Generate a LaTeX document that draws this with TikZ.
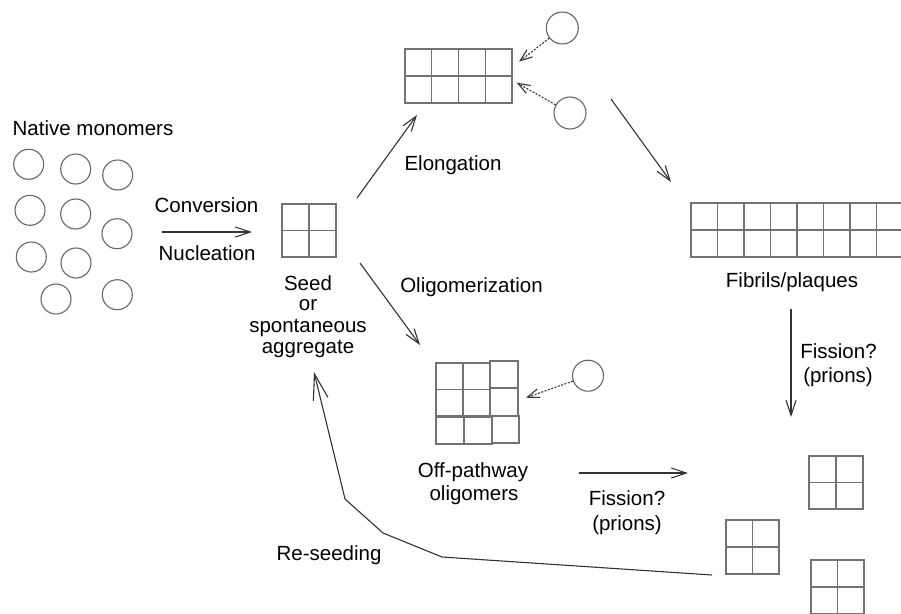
\documentclass[tikz,border=0pt]{standalone}
\usepackage{fontspec}
\setmainfont{Liberation Sans}
\usetikzlibrary{arrows.meta}
\tikzset{
  lbl/.style={font=\fontsize{20.5}{22}\selectfont, inner sep=0pt, anchor=base, text=black},
  conn/.style={draw=black!80, line width=1.1pt, -{Straight Barb[length=15pt,width=10pt,line width=1.1pt]}},
  reseed/.style={draw=black!80, line width=1.1pt, line join=round, -{Straight Barb[length=26pt,width=15pt,line width=1.1pt]}},
  dconn/.style={draw=black!80, line width=1.1pt, dash pattern=on 2pt off 1.5pt, -{Straight Barb[length=12pt,width=9pt,line width=1.1pt]}},
  cellln/.style={draw=black!55, line width=1.3pt},
  mono/.style={circle, draw=black!60, line width=1.1pt, minimum size=30pt, inner sep=0pt},
}
\newcommand\myagg[7]{%
  \node[cellln, rectangle, inner sep=0pt, anchor=north west,
        minimum width=#4*#6 pt, minimum height=#5*#7 pt] (#1) at (#2,#3) {};
  \foreach \i in {1,...,#4}{\foreach \j in {1,...,#5}{
    \draw[cellln] ({#2+(\i-1)*#6},{#3+(\j-1)*#7}) rectangle ++(#6,#7);}}%
}
\begin{document}
\begin{tikzpicture}[x=1pt,y=-1pt]
\useasboundingbox (0,0) rectangle (901,613);

% native monomers
\node[lbl] (tNative) at (93,135) {Native monomers};
\node[mono] (m1) at (28.7,164.3) {};
\node[mono] (m2) at (75.7,169) {};
\node[mono] (m3) at (117.7,175) {};
\node[mono] (m4) at (30,210.3) {};
\node[mono] (m5) at (75.7,214) {};
\node[mono] (m6) at (117,233.7) {};
\node[mono] (m7) at (31.3,257) {};
\node[mono] (m8) at (76,263) {};
\node[mono] (m9) at (56,299) {};
\node[mono] (m10) at (117.3,294.7) {};

% conversion arrow
\node[lbl] (tConv) at (206.5,212) {Conversion};
\node[lbl] (tNucl) at (207,260) {Nucleation};
\coordinate (cvA) at (162,232);
\coordinate (cvB) at (252,232);
\draw[conn] (cvA) -- (cvB);

% seed
\myagg{seed}{282}{204}{2}{2}{27}{26.5}
\node[lbl] (tSeed1) at (308,290) {Seed};
\node[lbl] (tSeed2) at (308,310) {or};
\node[lbl] (tSeed3) at (308,332) {spontaneous};
\node[lbl] (tSeed4) at (308,353) {aggregate};

% elongation
\coordinate (elA) at (357,198);
\coordinate (elB) at (417,115);
\draw[conn] (elA) -- (elB);
\node[lbl] (tElong) at (453,170) {Elongation};

% top fibril
\myagg{topfib}{405}{49}{4}{2}{26.75}{27}
\node[mono, minimum size=32pt] (cA) at (562.3,28) {};
\node[mono, minimum size=32pt] (cB) at (570,113) {};
\coordinate (tipA) at (519,61.7);
\coordinate (tipB) at (516.7,82.7);
\draw[dconn] (cA) -- (tipA);
\draw[dconn] (cB) -- (tipB);

% to fibrils
\coordinate (fbA) at (611,99);
\coordinate (fbB) at (671,182);
\draw[conn] (fbA) -- (fbB);

% fibrils / plaques
\myagg{fibrils}{691}{203}{8}{2}{26.5}{27}
\node[lbl] (tFib) at (792,287) {Fibrils/plaques};

% vertical fission
\coordinate (vfA) at (791,309);
\coordinate (vfB) at (791,417);
\draw[conn] (vfA) -- (vfB);
\node[lbl] (tFis1) at (838.5,358) {Fission?};
\node[lbl] (tPri1) at (838,382) {(prions)};

% oligomerization
\coordinate (olA) at (360,263);
\coordinate (olB) at (420,345);
\draw[conn] (olA) -- (olB);
\node[lbl] (tOlig) at (471.5,292) {Oligomerization};

% off-pathway oligomers
\coordinate (oligo) at (477,403);
\foreach \i in {0,1}{\foreach \j in {0,1}{
  \draw[cellln] ({436+27*\i},{363+26.5*\j}) rectangle ++(27,26.5);}}
\draw[cellln] (490,361) rectangle (518,388);
\draw[cellln] (490,388) rectangle (518,416);
\draw[cellln] (436,417) rectangle (464,444);
\draw[cellln] (464,417) rectangle (492,444);
\draw[cellln] (492,416) rectangle (519,443);
\node[mono, minimum size=31pt] (cC) at (588,375.7) {};
\coordinate (tipC) at (526,397.7);
\draw[dconn] (cC) -- (tipC);
\node[lbl] (tOff1) at (473,477) {Off-pathway};
\node[lbl] (tOff2) at (474,500) {oligomers};

% horizontal fission
\coordinate (hfA) at (579,473);
\coordinate (hfB) at (688,473);
\draw[conn] (hfA) -- (hfB);
\node[lbl] (tFis2) at (627,505) {Fission?};
\node[lbl] (tPri2) at (627,530) {(prions)};

% fragments
\myagg{segA}{809}{456}{2}{2}{27}{26.5}
\myagg{segB}{726}{520}{2}{2}{26.5}{27}
\myagg{segC}{811}{560}{2}{2}{26.5}{27}

% re-seeding
\coordinate (rs1) at (712,575);
\coordinate (rs2) at (442,557);
\coordinate (rs3) at (383,533);
\coordinate (rs4) at (345,499);
\coordinate (rs5) at (314,372);
\draw[reseed] (rs1) -- (rs2) -- (rs3) -- (rs4) -- (rs5);
\node[lbl] (tRe) at (329,560) {Re-seeding};
\end{tikzpicture}
\end{document}
